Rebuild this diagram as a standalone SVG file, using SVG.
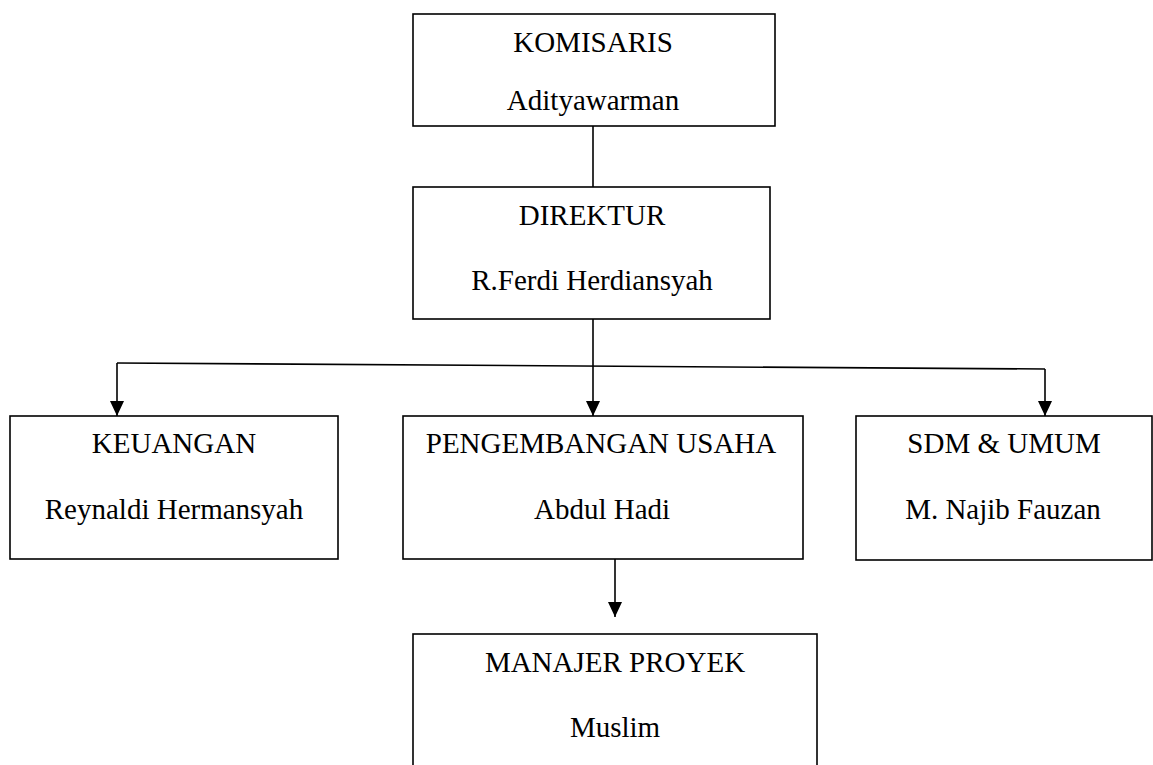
<svg xmlns="http://www.w3.org/2000/svg" width="1153" height="765" viewBox="0 0 1153 765">
<defs>
<style>
.box{fill:#fff;stroke:#000;stroke-width:1.6}
.t{font-family:"Liberation Serif","Times New Roman",serif;font-size:29px;fill:#000;text-anchor:middle}
.ln{fill:none;stroke:#000;stroke-width:1.6}
</style>
<marker id="arr" markerWidth="15" markerHeight="14" refX="15" refY="7" orient="auto" markerUnits="userSpaceOnUse" viewBox="0 0 15 14">
<path d="M0,0 L15,7 L0,14 Z" fill="#000"/>
</marker>
</defs>
<rect width="1153" height="765" fill="#fff"/>
<g id="connectors">
<line class="ln" x1="593" y1="126" x2="593" y2="187"/>
<line class="ln" x1="593" y1="319" x2="593" y2="365"/>
<line class="ln" x1="117" y1="363" x2="1045" y2="369"/>
<path class="ln" d="M117,363 V416" marker-end="url(#arr)"/>
<path class="ln" d="M593,365 V416" marker-end="url(#arr)"/>
<path class="ln" d="M1045,369 V416" marker-end="url(#arr)"/>
<path class="ln" d="M615,559 V617" marker-end="url(#arr)"/>
</g>
<g id="komisaris">
<rect class="box" x="413" y="14" width="362" height="112"/>
<text class="t" x="593" y="52">KOMISARIS</text>
<text class="t" x="593" y="110">Adityawarman</text>
</g>
<g id="direktur">
<rect class="box" x="413" y="187" width="357" height="132"/>
<text class="t" x="592" y="225">DIREKTUR</text>
<text class="t" x="592" y="290">R.Ferdi Herdiansyah</text>
</g>
<g id="keuangan">
<rect class="box" x="10" y="416" width="328" height="143"/>
<text class="t" x="174" y="453">KEUANGAN</text>
<text class="t" x="174" y="519">Reynaldi Hermansyah</text>
</g>
<g id="pengembangan">
<rect class="box" x="403" y="416" width="400" height="143"/>
<text class="t" x="601" y="453">PENGEMBANGAN USAHA</text>
<text class="t" x="602" y="519">Abdul Hadi</text>
</g>
<g id="sdm">
<rect class="box" x="856" y="416" width="296" height="144"/>
<text class="t" x="1004" y="453">SDM &amp; UMUM</text>
<text class="t" x="1003" y="519">M. Najib Fauzan</text>
</g>
<g id="manajer">
<rect class="box" x="413" y="634" width="404" height="150"/>
<text class="t" x="615" y="672">MANAJER PROYEK</text>
<text class="t" x="615" y="737">Muslim</text>
</g>
</svg>
